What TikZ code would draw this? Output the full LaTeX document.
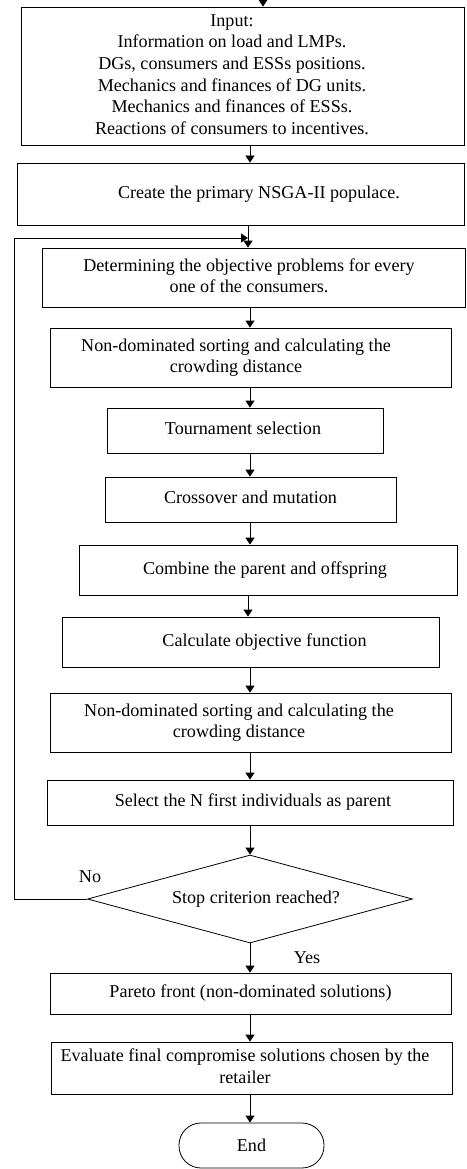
\documentclass[tikz,border=0pt]{standalone}
\usepackage{fontspec}
\setmainfont{Liberation Serif}
\usetikzlibrary{arrows.meta,shapes.geometric,calc}
\newcommand{\shtxt}[2]{\hspace*{#1}\begin{tabular}{@{}c@{}}#2\end{tabular}}
\begin{document}
\begin{tikzpicture}[x=1pt,y=-1pt,
  box/.style={draw, line width=0.8pt, rectangle, inner sep=0pt, font=\fontsize{18.1}{21.6}\selectfont},
  arr/.style={line width=0.8pt, -{Triangle[length=7pt,width=9pt]}},
  lbl/.style={font=\fontsize{18.1}{21.6}\selectfont, inner sep=0pt}]
\useasboundingbox (0,0) rectangle (466,1169);
\node[box, minimum width=443pt, minimum height=138pt] (input) at (242.5,76)
  {\shtxt{-21pt}{Input:\\Information on load and LMPs.\\DGs, consumers and ESSs positions.\\Mechanics and finances of DG units.\\Mechanics and finances of ESSs.\\Reactions of consumers to incentives.}};
\node[box, minimum width=447pt, minimum height=62pt] (create) at (240.5,194)
  {\shtxt{37pt}{Create the primary NSGA-II populace.}};
\node[box, minimum width=423pt, minimum height=59pt] (determ) at (253.5,277.5)
  {\shtxt{-9pt}{Determining the objective problems for every\\one of the consumers.}};
\node[box, minimum width=401pt, minimum height=59pt] (nd1) at (250.5,357.5)
  {\shtxt{-29pt}{Non-dominated sorting and calculating the\\crowding distance}};
\node[box, minimum width=276pt, minimum height=45pt] (tour) at (245,430.5)
  {\shtxt{-4pt}{Tournament selection}};
\node[box, minimum width=291pt, minimum height=45pt] (cross) at (250.5,499.5)
  {\shtxt{0pt}{Crossover and mutation}};
\node[box, minimum width=378pt, minimum height=50pt] (comb) at (268,570)
  {\shtxt{-6pt}{Combine the parent and offspring}};
\node[box, minimum width=377pt, minimum height=50pt] (calc) at (250.5,642)
  {\shtxt{28pt}{Calculate objective function}};
\node[box, minimum width=401pt, minimum height=59pt] (nd2) at (250.5,722.5)
  {\shtxt{-23pt}{Non-dominated sorting and calculating the\\crowding distance}};
\node[box, minimum width=406pt, minimum height=45pt] (sel) at (250,802.5)
  {\shtxt{6pt}{Select the N first individuals as parent}};
\node[box, diamond, aspect=3.7, minimum width=325pt, minimum height=88pt] (dia) at (250,899)
  {\shtxt{12pt}{Stop criterion reached?}};
\node[box, minimum width=401pt, minimum height=41pt] (pareto) at (250.5,993.5)
  {\shtxt{0pt}{Pareto front (non-dominated solutions)}};
\node[box, minimum width=401pt, minimum height=52pt] (eval) at (251.5,1068)
  {\shtxt{-13pt}{Evaluate final compromise solutions chosen by the\\retailer}};
\node[box, rounded corners=22pt, minimum width=145pt, minimum height=45pt] (end) at (251.5,1145.5)
  {End};
\node[lbl] (no) at (90,877) {No};
\node[lbl] (yes) at (307,958) {Yes};
\coordinate (top) at (263,0);
\coordinate (ax) at (250,0);
\coordinate (lx) at (14,0);
\coordinate (join) at (248,238);
\draw[arr] (top) -- (input.north -| top);
\draw[arr] (input.south -| ax) -- (create.north -| ax);
\draw[arr] (create.south -| join) -- (determ.north -| join);
\draw[arr] (determ.south -| ax) -- (nd1.north -| ax);
\draw[arr] (nd1.south -| ax) -- (tour.north -| ax);
\draw[arr] (tour.south -| ax) -- (cross.north -| ax);
\draw[arr] (cross.south -| ax) -- (comb.north -| ax);
\draw[arr] (comb.south -| join) -- (calc.north -| join);
\draw[arr] (calc.south -| ax) -- (nd2.north -| ax);
\draw[arr] (nd2.south -| ax) -- (sel.north -| ax);
\draw[arr] (sel.south -| ax) -- (dia.north);
\draw[arr] (dia.south) -- (pareto.north -| dia.south);
\draw[arr] (pareto.south -| ax) -- (eval.north -| ax);
\draw[arr] (eval.south -| ax) -- (end.north -| ax);
\draw[arr] (dia.west) -- (dia.west -| lx) -- (join -| lx) -- (join);
\end{tikzpicture}
\end{document}
